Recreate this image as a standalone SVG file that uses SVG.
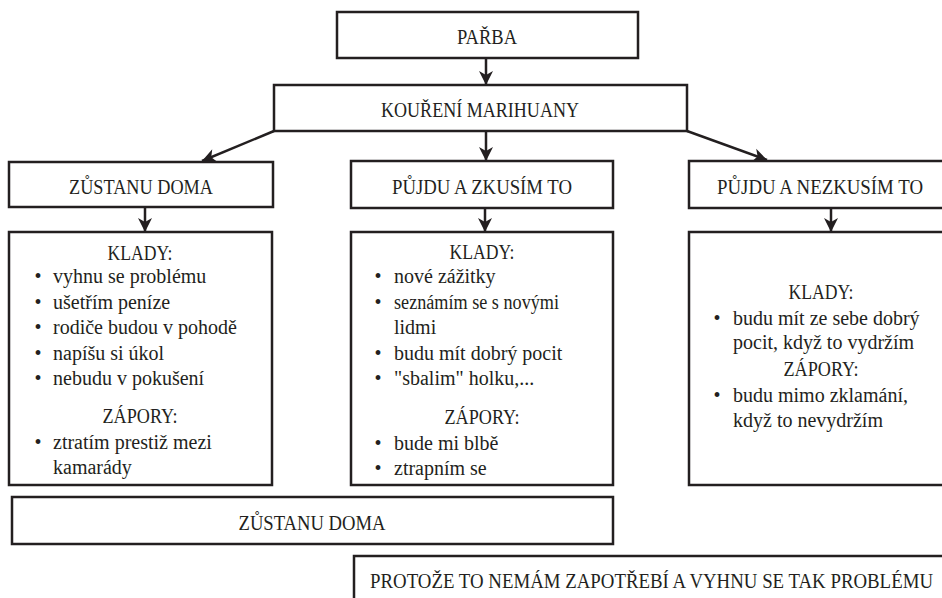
<svg xmlns="http://www.w3.org/2000/svg" width="942" height="598" viewBox="0 0 942 598">
<style>
.box{fill:#fff;stroke:#231f20;stroke-width:2.5}
.t{fill:#231f20}
.h{font-size:20px;text-anchor:middle}
.b{font-size:20px}
.c{font-size:20px;text-anchor:middle}
.edge{stroke:#231f20;stroke-width:2.5;fill:none}
</style>
<defs>
<marker id="ah" markerUnits="userSpaceOnUse" markerWidth="16" markerHeight="16" viewBox="-15 -8 16 16" refX="0" refY="0" orient="auto">
<path d="M0,0 L-14,-7 L-10,0 L-14,7 Z" fill="#231f20"/>
</marker>
</defs>
<rect width="942" height="598" fill="#fff"/>
<g id="connectors">
<line class="edge" x1="486" y1="58" x2="486" y2="85" marker-end="url(#ah)"/>
<line class="edge" x1="486" y1="131" x2="486" y2="161" marker-end="url(#ah)"/>
<line class="edge" x1="274" y1="131" x2="202" y2="161" marker-end="url(#ah)"/>
<line class="edge" x1="687" y1="131" x2="767" y2="160" marker-end="url(#ah)"/>
<line class="edge" x1="145" y1="207" x2="145" y2="232" marker-end="url(#ah)"/>
<line class="edge" x1="485" y1="208" x2="485" y2="232" marker-end="url(#ah)"/>
<line class="edge" x1="831" y1="208" x2="831" y2="232" marker-end="url(#ah)"/>
</g>
<g font-family="Liberation Serif, serif">
<g id="parba">
<rect class="box" x="337" y="12" width="301" height="46"/>
<text class="t h" x="487" y="44" textLength="60" lengthAdjust="spacingAndGlyphs">PAŘBA</text>
</g>
<g id="koureni">
<rect class="box" x="274" y="85" width="413" height="46"/>
<text class="t h" x="480" y="117" textLength="198" lengthAdjust="spacingAndGlyphs">KOUŘENÍ MARIHUANY</text>
</g>
<g id="zustanu">
<rect class="box" x="9" y="162" width="264" height="45"/>
<text class="t h" x="141" y="194" textLength="144" lengthAdjust="spacingAndGlyphs">ZŮSTANU DOMA</text>
</g>
<g id="pujdu-zkusim">
<rect class="box" x="351" y="161" width="262" height="47"/>
<text class="t h" x="482" y="194" textLength="180" lengthAdjust="spacingAndGlyphs">PŮJDU A ZKUSÍM TO</text>
</g>
<g id="pujdu-nezkusim">
<rect class="box" x="689" y="161" width="264" height="47"/>
<text class="t h" x="820" y="194" textLength="206" lengthAdjust="spacingAndGlyphs">PŮJDU A NEZKUSÍM TO</text>
</g>
<g id="left-list">
<rect class="box" x="9" y="232" width="263" height="253"/>
<text class="t c" x="140" y="260" textLength="65" lengthAdjust="spacingAndGlyphs">KLADY:</text>
<text class="t c" x="38" y="283">•</text><text class="t b" x="53" y="283">vyhnu se problému</text>
<text class="t c" x="38" y="309">•</text><text class="t b" x="53" y="309">ušetřím peníze</text>
<text class="t c" x="38" y="334">•</text><text class="t b" x="53" y="334">rodiče budou v pohodě</text>
<text class="t c" x="38" y="360">•</text><text class="t b" x="53" y="360">napíšu si úkol</text>
<text class="t c" x="38" y="385">•</text><text class="t b" x="53" y="385">nebudu v pokušení</text>
<text class="t c" x="140" y="423" textLength="75" lengthAdjust="spacingAndGlyphs">ZÁPORY:</text>
<text class="t c" x="38" y="449">•</text><text class="t b" x="53" y="449">ztratím prestiž mezi</text>
<text class="t b" x="53" y="474">kamarády</text>
</g>
<g id="mid-list">
<rect class="box" x="351" y="232" width="262" height="253"/>
<text class="t c" x="482" y="259" textLength="65" lengthAdjust="spacingAndGlyphs">KLADY:</text>
<text class="t c" x="378" y="283">•</text><text class="t b" x="394" y="283">nové zážitky</text>
<text class="t c" x="378" y="309">•</text><text class="t b" x="394" y="309" textLength="165" lengthAdjust="spacingAndGlyphs">seznámím se s novými</text>
<text class="t b" x="394" y="334">lidmi</text>
<text class="t c" x="378" y="360">•</text><text class="t b" x="394" y="360">budu mít dobrý pocit</text>
<text class="t c" x="378" y="385">•</text><text class="t b" x="394" y="385">"sbalim" holku,...</text>
<text class="t c" x="482" y="424" textLength="75" lengthAdjust="spacingAndGlyphs">ZÁPORY:</text>
<text class="t c" x="378" y="450">•</text><text class="t b" x="394" y="450">bude mi blbě</text>
<text class="t c" x="378" y="475">•</text><text class="t b" x="394" y="475">ztrapním se</text>
</g>
<g id="right-list">
<rect class="box" x="689" y="232" width="264" height="253"/>
<text class="t c" x="821" y="299" textLength="65" lengthAdjust="spacingAndGlyphs">KLADY:</text>
<text class="t c" x="717" y="325">•</text><text class="t b" x="733" y="325">budu mít ze sebe dobrý</text>
<text class="t b" x="733" y="349">pocit, když to vydržím</text>
<text class="t c" x="821" y="376" textLength="75" lengthAdjust="spacingAndGlyphs">ZÁPORY:</text>
<text class="t c" x="717" y="402">•</text><text class="t b" x="733" y="402">budu mimo zklamání,</text>
<text class="t b" x="733" y="427">když to nevydržím</text>
</g>
<g id="zustanu-final">
<rect class="box" x="12" y="497" width="601" height="47"/>
<text class="t h" x="312" y="530" textLength="147" lengthAdjust="spacingAndGlyphs">ZŮSTANU DOMA</text>
</g>
<g id="protoze">
<rect class="box" x="354" y="556" width="600" height="60"/>
<text class="t" x="370" y="588" font-size="20" textLength="563" lengthAdjust="spacingAndGlyphs">PROTOŽE TO NEMÁM ZAPOTŘEBÍ A VYHNU SE TAK PROBLÉMU</text>
</g>
</g>
</svg>
